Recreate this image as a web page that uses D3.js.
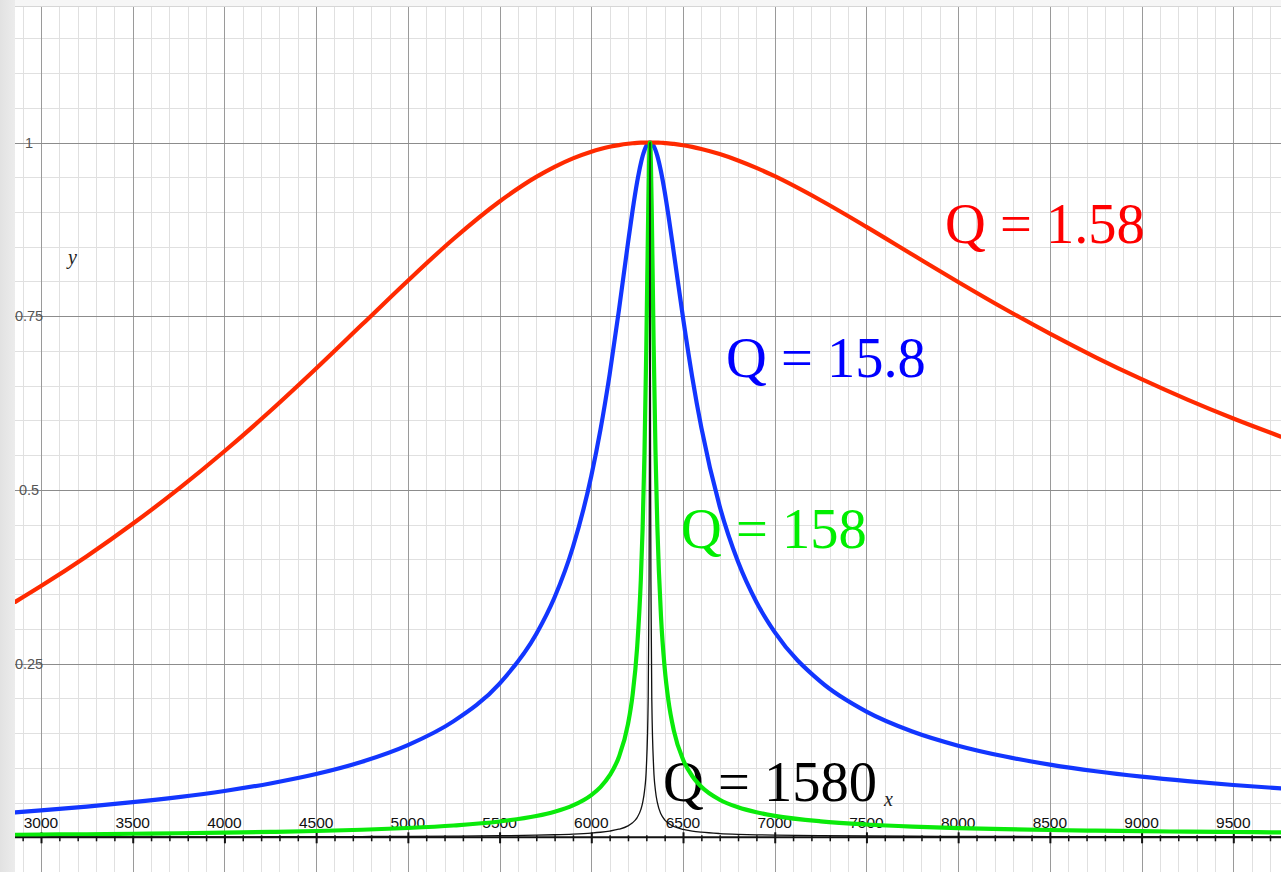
<!DOCTYPE html>
<html>
<head>
<meta charset="utf-8">
<script src="https://cdn.jsdelivr.net/npm/d3@7"></script>
<style>
  html, body { margin: 0; padding: 0; background: #ffffff; }
  svg { display: block; }
</style>
</head>
<body>
<svg id="chart" width="1281" height="872"></svg>
<script>
// Frequency samples (Hz) shared by every response curve
const freqHz = [2860, 3000, 3250, 3500, 3750, 4000, 4250, 4500, 4750, 5000, 5250, 5500, 5700, 5800, 5900,
  6000, 6050, 6100, 6150, 6200, 6225, 6250, 6270, 6280, 6290, 6300, 6310, 6315, 6317, 6318, 6319,
  6320, 6321, 6322, 6323, 6325, 6330, 6340, 6350, 6360, 6380, 6400, 6420, 6450, 6500, 6550, 6600,
  6700, 6800, 6900, 7000, 7250, 7500, 7750, 8000, 8250, 8500, 8750, 9000, 9250, 9500, 9760];

// Normalised response for each quality factor
const gainQ1_58 = [0.3389, 0.3616, 0.4046, 0.4512, 0.5015, 0.5556, 0.6135, 0.6747, 0.7379, 0.8011, 0.8615, 0.9151, 0.9505, 0.9650, 0.9772,
  0.9868, 0.9906, 0.9938, 0.9963, 0.9982, 0.9989, 0.9994, 0.9997, 0.9998, 0.9999, 1.0, 1.0, 1.0, 1.0, 1.0, 1.0,
  1.0, 1.0, 1.0, 1.0, 1.0, 1.0, 1.0, 0.9999, 0.9998, 0.9996, 0.9992, 0.9988, 0.9979, 0.9961, 0.9937, 0.9907,
  0.9834, 0.9742, 0.9635, 0.9515, 0.9169, 0.8786, 0.8388, 0.7993, 0.7611, 0.7249, 0.6909, 0.6593, 0.6299, 0.6027, 0.5766];

const gainQ15_8 = [0.0360, 0.0388, 0.0442, 0.0505, 0.0579, 0.0667, 0.0775, 0.0910, 0.1087, 0.1327, 0.1672, 0.2213, 0.2926, 0.3455, 0.4178,
  0.5200, 0.5867, 0.6661, 0.7575, 0.8553, 0.9020, 0.9433, 0.9699, 0.9805, 0.9889, 0.9950, 0.9988, 0.9997, 0.9999, 1.0, 1.0,
  1.0, 1.0, 1.0, 0.9999, 0.9997, 0.9988, 0.9950, 0.9890, 0.9807, 0.9582, 0.9293, 0.8958, 0.8410, 0.7479, 0.6628, 0.5895,
  0.4763, 0.3965, 0.3387, 0.2953, 0.2240, 0.1809, 0.1523, 0.1319, 0.1166, 0.1047, 0.0951, 0.0873, 0.0808, 0.0753, 0.0704];

const gainQ158 = [0.0036, 0.0039, 0.0044, 0.0051, 0.0058, 0.0067, 0.0078, 0.0091, 0.0109, 0.0134, 0.0170, 0.0227, 0.0306, 0.0368, 0.0459,
  0.0608, 0.0723, 0.0890, 0.1153, 0.1629, 0.2045, 0.2733, 0.3701, 0.4461, 0.5538, 0.7065, 0.8943, 0.9701, 0.9889, 0.9950, 0.9988,
  1.0, 0.9988, 0.9950, 0.9889, 0.9701, 0.8946, 0.7076, 0.5556, 0.4484, 0.3176, 0.2440, 0.1976, 0.1536, 0.1120, 0.0882, 0.0728,
  0.0541, 0.0432, 0.0360, 0.0309, 0.0230, 0.0184, 0.0154, 0.0133, 0.0117, 0.0105, 0.0096, 0.0088, 0.0081, 0.0076, 0.0071];

const gainQ1580 = [0.00036, 0.00039, 0.00044, 0.00051, 0.00058, 0.00067, 0.00078, 0.00091, 0.00109, 0.00134, 0.0017, 0.00227, 0.00306, 0.00368, 0.0046,
  0.00609, 0.00725, 0.00893, 0.0116, 0.0165, 0.0209, 0.0284, 0.0398, 0.0498, 0.0664, 0.0993, 0.1960, 0.3713, 0.5547, 0.7071, 0.8944,
  1.0, 0.8944, 0.7071, 0.5547, 0.3714, 0.1963, 0.0997, 0.0667, 0.0501, 0.0335, 0.0252, 0.0202, 0.0155, 0.0113, 0.00885, 0.0073,
  0.00542, 0.00432, 0.0036, 0.00309, 0.0023, 0.00184, 0.00154, 0.00133, 0.00117, 0.00105, 0.00096, 0.00088, 0.00081, 0.00076, 0.00071];

const seriesLabels = ["Q = 1.58", "Q = 15.8", "Q = 158", "Q = 1580"];
const xTickLabels = [3000, 3500, 4000, 4500, 5000, 5500, 6000, 6500, 7000, 7500, 8000, 8500, 9000, 9500];
const yTickLabels = [0.25, 0.5, 0.75, 1];

const W = 1281, H = 872;
const plot = { left: 15, top: 7, right: W, bottom: H };

const svg = d3.select("#chart");

// Scales: data units -> pixels
const x = d3.scaleLinear().domain([3000, 9500]).range([41, 1233.3]);
const y = d3.scaleLinear().domain([0, 1]).range([837.3, 142.5]);

// Window chrome around the plotting surface
svg.append("rect").attr("x", 0).attr("y", 0).attr("width", W).attr("height", H).attr("fill", "#f6f6f6");
const defs = svg.append("defs");
const grad = defs.append("linearGradient").attr("id", "sideShade")
  .attr("x1", 0).attr("x2", 1).attr("y1", 0).attr("y2", 0);
grad.append("stop").attr("offset", 0).attr("stop-color", "#e2e2e2");
grad.append("stop").attr("offset", 1).attr("stop-color", "#ececec");
svg.append("rect").attr("x", 0).attr("y", 0).attr("width", plot.left).attr("height", H).attr("fill", "url(#sideShade)");
svg.append("rect").attr("x", plot.left).attr("y", plot.top)
  .attr("width", plot.right - plot.left).attr("height", plot.bottom - plot.top).attr("fill", "#ffffff");
svg.append("line").attr("x1", plot.left).attr("x2", W).attr("y1", plot.top - 0.5).attr("y2", plot.top - 0.5)
  .attr("stroke", "#d6d6d6").attr("stroke-width", 1);

defs.append("clipPath").attr("id", "plotClip")
  .append("rect").attr("x", plot.left).attr("y", plot.top)
  .attr("width", plot.right - plot.left).attr("height", plot.bottom - plot.top);

const g = svg.append("g").attr("clip-path", "url(#plotClip)");

// Grid: fine lines every 100 Hz / 0.05, heavier lines every 500 Hz / 0.25
const xMinor = d3.range(2800, 9900, 100);
const yMinor = d3.range(-2, 26).map(i => +(i * 0.05).toFixed(2));
const xMajor = d3.range(2500, 10001, 500);
const yMajor = [0.25, 0.5, 0.75, 1];

const grid = g.append("g");
grid.selectAll(".vminor").data(xMinor).join("line")
  .attr("x1", d => Math.round(x(d)) + 0.5).attr("x2", d => Math.round(x(d)) + 0.5)
  .attr("y1", plot.top).attr("y2", plot.bottom)
  .attr("stroke", "#e0e0e0").attr("stroke-width", 1);
grid.selectAll(".hminor").data(yMinor).join("line")
  .attr("y1", d => Math.round(y(d)) + 0.5).attr("y2", d => Math.round(y(d)) + 0.5)
  .attr("x1", plot.left).attr("x2", plot.right)
  .attr("stroke", "#e0e0e0").attr("stroke-width", 1);
grid.selectAll(".vmajor").data(xMajor).join("line")
  .attr("x1", d => Math.round(x(d)) + 0.5).attr("x2", d => Math.round(x(d)) + 0.5)
  .attr("y1", plot.top).attr("y2", plot.bottom)
  .attr("stroke", "#9a9a9a").attr("stroke-width", 1);
grid.selectAll(".hmajor").data(yMajor).join("line")
  .attr("y1", d => Math.round(y(d)) + 0.5).attr("y2", d => Math.round(y(d)) + 0.5)
  .attr("x1", plot.left).attr("x2", plot.right)
  .attr("stroke", "#8c8c8c").attr("stroke-width", 1);

// Horizontal axis with small ticks every 100 and large ticks every 500
const axisY = y(0);
g.append("line").attr("x1", plot.left).attr("x2", plot.right)
  .attr("y1", axisY).attr("y2", axisY).attr("stroke", "#111").attr("stroke-width", 2);

const minorAxis = g.append("g").attr("transform", `translate(0,${axisY})`)
  .call(d3.axisBottom(x).tickValues(xMinor.filter(v => v % 500 !== 0)).tickSize(4).tickSizeOuter(0).tickFormat(""));
minorAxis.select(".domain").remove();
minorAxis.selectAll(".tick line").attr("y1", -2).attr("y2", 4).attr("stroke", "#111").attr("stroke-width", 1.5);

const majorAxis = g.append("g").attr("transform", `translate(0,${axisY})`)
  .call(d3.axisBottom(x).tickValues(xMajor).tickSize(6).tickSizeOuter(0).tickFormat(""));
majorAxis.select(".domain").remove();
majorAxis.selectAll(".tick line").attr("y1", -5).attr("y2", 6).attr("stroke", "#111").attr("stroke-width", 2);

// Tick labels
g.append("g").selectAll("text").data(xTickLabels).join("text")
  .attr("x", d => x(d)).attr("y", axisY - 9.6)
  .attr("text-anchor", "middle")
  .attr("font-family", "'Liberation Sans', Arial, Helvetica, sans-serif")
  .attr("font-size", 15.5).attr("fill", "#111")
  .text(d => d);

g.append("g").selectAll("text").data(yTickLabels).join("text")
  .attr("x", 29).attr("y", d => y(d)).attr("dy", "0.35em")
  .attr("text-anchor", "middle")
  .attr("font-family", "'Liberation Sans', Arial, Helvetica, sans-serif")
  .attr("font-size", 14.5).attr("fill", "#555")
  .text(d => d);

// Axis names
g.append("text").attr("x", 68).attr("y", 264)
  .attr("font-family", "'Liberation Serif', 'Times New Roman', serif").attr("font-style", "italic")
  .attr("font-size", 20).attr("fill", "#222").text("y");
g.append("text").attr("x", 884).attr("y", 806)
  .attr("font-family", "'Liberation Serif', 'Times New Roman', serif").attr("font-style", "italic")
  .attr("font-size", 20).attr("fill", "#222").text("x");

// Curve labels (set under the curves)
const labelSpecs = [
  { text: seriesLabels[0], fill: "#ff0000", px: 945, py: 243 },
  { text: seriesLabels[1], fill: "#0000ff", px: 726, py: 377 },
  { text: seriesLabels[2], fill: "#00ee00", px: 681, py: 548 },
  { text: seriesLabels[3], fill: "#000000", px: 663, py: 801 }
];
g.append("g").selectAll("text").data(labelSpecs).join("text")
  .attr("x", d => d.px).attr("y", d => d.py)
  .attr("font-family", "'Liberation Serif', 'Times New Roman', Times, serif")
  .attr("font-size", 56.5).attr("fill", d => d.fill)
  .attr("xml:space", "preserve")
  .text(d => d.text);

// Response curves
const line = d3.line()
  .x(d => x(d[0]))
  .y(d => y(d[1]))
  .curve(d3.curveMonotoneX);

const series = [
  { values: gainQ15_8, color: "#1236ff", width: 4.2 },
  { values: gainQ1_58, color: "#ff2a00", width: 4.2 },
  { values: gainQ158, color: "#0aea0a", width: 4.2 },
  { values: gainQ1580, color: "#111111", width: 1.3 }
];

g.append("g").selectAll("path").data(series).join("path")
  .attr("d", s => line(freqHz.map((f, i) => [f, s.values[i]])))
  .attr("fill", "none")
  .attr("stroke", s => s.color)
  .attr("stroke-width", s => s.width)
  .attr("stroke-linejoin", "round")
  .attr("stroke-linecap", "round");
</script>
</body>
</html>
